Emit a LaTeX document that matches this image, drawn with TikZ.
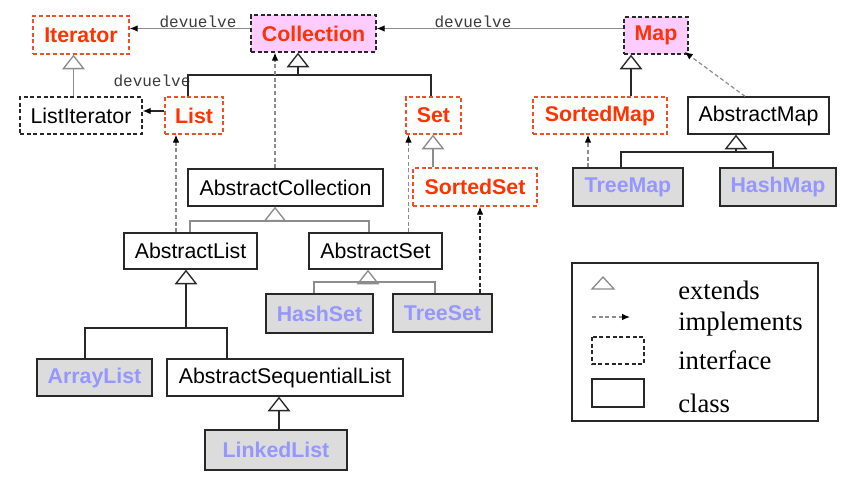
\documentclass[tikz,border=0pt]{standalone}
\usepackage{fontspec}
\setmainfont{Liberation Serif}
\newfontfamily\arialf{Liberation Sans}
\newfontfamily\courf{Liberation Mono}
\usetikzlibrary{arrows.meta}
\definecolor{ired}{RGB}{255,51,0}
\definecolor{ibord}{RGB}{240,80,40}
\definecolor{cpurple}{RGB}{150,150,255}
\definecolor{cfill}{RGB}{220,220,220}
\definecolor{ipink}{RGB}{255,204,255}
\definecolor{lgray}{RGB}{140,140,140}
\definecolor{dgray}{RGB}{40,40,40}
\definecolor{tgray}{RGB}{60,60,60}
\begin{document}
\begin{tikzpicture}[x=0.75pt,y=-0.75pt,
  base/.style={inner sep=0pt, line width=1pt, anchor=center,
    font=\arialf\fontsize{16}{18}\selectfont},
  boldbase/.style={base, font=\arialf\bfseries\fontsize{16}{18}\selectfont},
  iface/.style={boldbase, draw=ibord, dash pattern=on 3pt off 2pt, text=ired, fill=white},
  ifacepink/.style={boldbase, draw=dgray, dash pattern=on 3pt off 2pt, text=ired, fill=ipink},
  ifaceblack/.style={base, draw=dgray, dash pattern=on 3pt off 2pt, text=black},
  absclass/.style={base, draw=dgray, text=black, fill=white},
  conclass/.style={boldbase, draw=dgray, text=cpurple, fill=cfill},
  extg/.style={draw=lgray, line width=1pt, -{Triangle[open,length=11pt,width=17pt,fill=white]}},
  extb/.style={draw=dgray, line width=1pt, -{Triangle[open,length=11pt,width=17pt,fill=white]}},
  linkg/.style={draw=lgray, line width=1pt},
  linkb/.style={draw=dgray, line width=1pt},
  retg/.style={draw=lgray, line width=1pt, -{Latex[length=6pt,width=5pt,color=black]}},
  retb/.style={draw=dgray, line width=1pt, -{Latex[length=6pt,width=5pt,color=black]}},
  implg/.style={draw=lgray, line width=0.9pt, dash pattern=on 3pt off 2pt, -{Latex[length=6pt,width=5pt,color=black]}},
  implb/.style={draw=dgray, line width=0.9pt, dash pattern=on 3pt off 2pt, -{Latex[length=6pt,width=5pt,color=black]}},
  lbl/.style={inner sep=0pt, text=tgray, font=\courf\fontsize{12}{14}\selectfont},
  legtext/.style={inner sep=0pt, anchor=base west, font=\fontsize{20}{22}\selectfont}
]
\useasboundingbox[fill=white] (0,0) rectangle (843,477);

% ---- nodes ----
\node[iface, minimum width=72pt, minimum height=28.5pt] (Iterator) at (81,35) {Iterator};
\node[ifacepink, minimum width=93.75pt, minimum height=27.75pt] (Collection) at (313.5,33.5) {Collection};
\node[ifacepink, minimum width=48pt, minimum height=27.75pt] (Map) at (656,35.5) {Map};
\node[ifaceblack, minimum width=91.5pt, minimum height=27.75pt] (ListIterator) at (81,115.5) {ListIterator};
\node[iface, minimum width=43.5pt, minimum height=27.75pt] (List) at (194,115.5) {List};
\node[iface, minimum width=41.25pt, minimum height=27.75pt] (Set) at (433.5,115.5) {Set};
\node[iface, minimum width=100.5pt, minimum height=27.75pt] (SortedMap) at (600,115.5) {SortedMap};
\node[absclass, minimum width=105.75pt, minimum height=27.75pt] (AbstractMap) at (758.5,115.5) {AbstractMap};
\node[absclass, minimum width=146.25pt, minimum height=27.75pt] (AbstractCollection) at (285.5,187.5) {AbstractCollection};
\node[iface, minimum width=93pt, minimum height=28.5pt] (SortedSet) at (475,187) {SortedSet};
\node[conclass, minimum width=82.5pt, minimum height=28.5pt] (TreeMap) at (628,187) {TreeMap};
\node[conclass, minimum width=87pt, minimum height=28.5pt] (HashMap) at (778,187) {HashMap};
\node[absclass, minimum width=99.75pt, minimum height=27pt] (AbstractList) at (190.5,251) {AbstractList};
\node[absclass, minimum width=99.75pt, minimum height=27pt] (AbstractSet) at (375.5,251) {AbstractSet};
\node[conclass, minimum width=80.25pt, minimum height=29.25pt] (HashSet) at (319.5,313.5) {HashSet};
\node[conclass, minimum width=74.25pt, minimum height=28.5pt] (TreeSet) at (442.5,313) {TreeSet};
\node[conclass, minimum width=86.25pt, minimum height=27.75pt] (ArrayList) at (94.5,377.5) {ArrayList};
\node[absclass, minimum width=177pt, minimum height=27.75pt] (ASL) at (285,377.5) {AbstractSequentialList};
\node[conclass, minimum width=106.5pt, minimum height=30pt] (LinkedList) at (276,450) {LinkedList};

% ---- "devuelve" connectors ----
\draw[retg] (Collection.west |- 0,28.5) -- (Iterator.east |- 0,28.5);
\node[lbl] (dv1) at (198,22) {devuelve};
\draw[retg] (Map.west |- 0,28.5) -- (Collection.east |- 0,28.5);
\node[lbl] (dv2) at (473,22) {devuelve};
\draw[retb] (List.west |- 0,111) -- (ListIterator.east |- 0,111);
\node[lbl] (dv3) at (152,81) {devuelve};

% ---- extends ----
\draw[extg] (ListIterator.north -| 73.5,0) -- (Iterator.south -| 73.5,0);

\coordinate (cj1) at (298,75);
\draw[extb] (cj1) -- (Collection.south -| cj1);
\draw[linkb] (List.north -| 188,0) |- (cj1) -| (Set.north -| 431,0);

\draw[extg] (SortedSet.north -| 433,0) -- (Set.south -| 433,0);

\coordinate (cj2) at (275,221);
\draw[extg] (cj2) -- (AbstractCollection.south -| cj2);
\draw[linkg] (AbstractList.north -| 190,0) |- (cj2) -| (AbstractSet.north -| 369,0);

\coordinate (cj3) at (368,282);
\draw[extg] (cj3) -- (AbstractSet.south -| cj3);
\draw[linkg] (HashSet.north -| 314,0) |- (cj3) -| (TreeSet.north -| 435,0);

\coordinate (cj4) at (186,328);
\draw[extb] (cj4) -- (AbstractList.south -| cj4);
\draw[linkb] (ArrayList.north -| 85,0) |- (cj4) -| (ASL.north -| 227,0);

\draw[extb] (LinkedList.north -| 279,0) -- (ASL.south -| 279,0);

\draw[extb] (SortedMap.north -| 631,0) -- (Map.south -| 631,0);

\coordinate (cj5) at (736,152);
\draw[extb] (cj5) -- (AbstractMap.south -| cj5);
\draw[linkb] (TreeMap.north -| 621,0) |- (cj5) -| (HashMap.north -| 773,0);

% ---- implements ----
\draw[implg] (AbstractCollection.north -| 275,0) -- (Collection.south -| 275,0);
\draw[implg] (AbstractList.north -| 176,0) -- (List.south -| 176,0);
\draw[implg] (AbstractSet.north -| 408.5,0) -- (Set.south -| 408.5,0);
\draw[implb] (TreeSet.north -| 480,0) -- (SortedSet.south -| 480,0);
\draw[implg] (TreeMap.north -| 588,0) -- (SortedMap.south -| 588,0);
\draw[implg] (AbstractMap.north -| 745,0) -- ([xshift=-3pt,yshift=2pt]Map.south east);

% ---- legend ----
\draw[draw=dgray, line width=1pt] (572,263) rectangle (818,421);
\draw[draw=lgray, line width=1pt] (592,289) -- (614,289) -- (603,277) -- cycle;
\draw[draw=lgray, line width=0.9pt, dash pattern=on 3pt off 2pt, -{Latex[length=6pt,width=5pt,color=black]}] (592,317) -- (630,317);
\draw[draw=dgray, line width=1pt, dash pattern=on 3pt off 2pt] (592,337) rectangle (644,364);
\draw[draw=dgray, line width=1pt] (592,379) rectangle (644,407);
\node[legtext] (lg1) at (678,300) {extends};
\node[legtext] (lg2) at (678,331) {implements};
\node[legtext] (lg3) at (678,370) {interface};
\node[legtext] (lg4) at (678,412) {class};
\end{tikzpicture}
\end{document}
